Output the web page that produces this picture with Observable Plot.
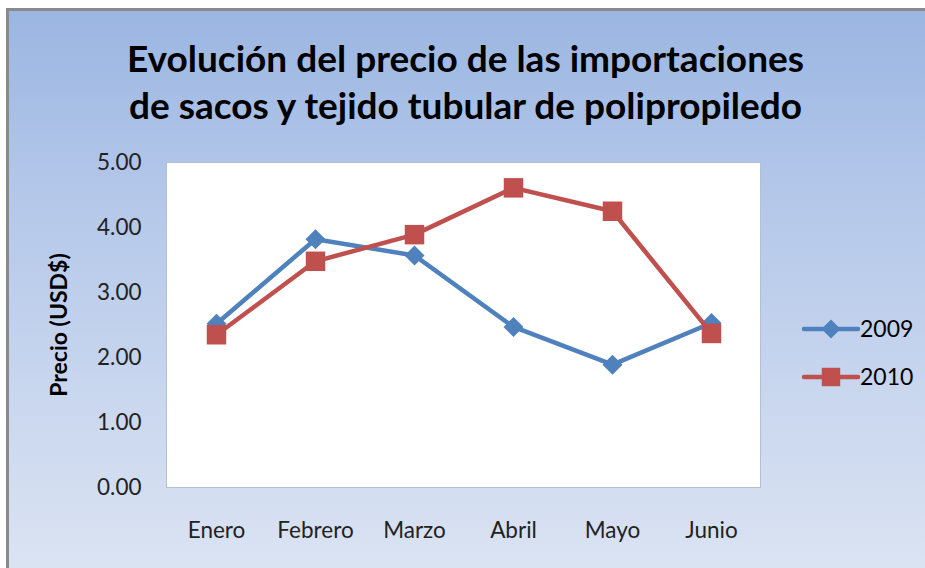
<!DOCTYPE html>
<html>
<head>
<meta charset="utf-8">
<script src="https://cdn.jsdelivr.net/npm/d3@7"></script>
<script src="https://cdn.jsdelivr.net/npm/@observablehq/plot@0.6"></script>
<style>
  html, body { margin: 0; padding: 0; background: #ffffff; width: 925px; height: 568px; overflow: hidden; }
  #chart {
    position: absolute; left: 6px; top: 8px; width: 940px; height: 580px;
    border-left: 3px solid #8a8a8a; border-top: 3px solid #8a8a8a;
    background: linear-gradient(to bottom, #9bb6e2 0%, #b6c9ea 35%, #dde5f3 100%);
    font-family: Lato, "Open Sans", sans-serif;
  }
  #title {
    position: absolute; left: -6px; top: 23px; width: 925px; text-align: center;
    font-weight: bold; font-size: 37px; line-height: 47px; color: #000;
  }
  #plot { position: absolute; left: -9px; top: 129px; }
  #legend { position: absolute; left: 783px; top: 300px; }
</style>
</head>
<body>
<div id="chart">
  <div id="title">Evolución del precio de las importaciones<br>de sacos y tejido tubular de polipropiledo</div>
  <div id="plot"></div>
  <div id="legend"></div>
</div>
<script>
const months = ["Enero", "Febrero", "Marzo", "Abril", "Mayo", "Junio"];
const series = ["2009", "2010"];
const values2009 = [2.52, 3.82, 3.57, 2.47, 1.89, 2.53];
const values2010 = [2.35, 3.48, 3.89, 4.61, 4.25, 2.37];
const yTicks = [0, 1, 2, 3, 4, 5];
const colors = ["#4f81bd", "#c0504d"];
const symbols = ["diamond2", "square"];

const data2009 = months.map((m, i) => ({month: m, value: values2009[i], series: "2009"}));
const data2010 = months.map((m, i) => ({month: m, value: values2010[i], series: "2010"}));

const chart = Plot.plot({
  width: 925,
  height: 439,
  marginTop: 22,
  marginBottom: 92,
  marginLeft: 166,
  marginRight: 165,
  style: {background: "transparent", fontFamily: "Lato, 'Open Sans', sans-serif", fontSize: "22.5px", color: "#222"},
  x: {type: "point", domain: months, padding: 0.5, label: null, tickSize: 0, tickPadding: 35},
  y: {domain: [0, 5], ticks: yTicks, tickFormat: d3.format(".2f"), label: null, tickSize: 0, tickPadding: 25},
  marks: [
    Plot.frame({fill: "white", stroke: "#b4bfd0", strokeWidth: 1}),
    Plot.line(data2009, {x: "month", y: "value", stroke: colors[0], strokeWidth: 4.5}),
    Plot.dot(data2009, {x: "month", y: "value", symbol: symbols[0], r: 9, fill: colors[0], stroke: "none"}),
    Plot.line(data2010, {x: "month", y: "value", stroke: colors[1], strokeWidth: 4.5}),
    Plot.dot(data2010, {x: "month", y: "value", symbol: symbols[1], r: 11, fill: colors[1], stroke: "none"}),
    Plot.text(["Precio (USD$)"], {frameAnchor: "left", textAnchor: "middle", dx: -107, rotate: -90, fontWeight: "bold", fontSize: 23, fill: "#000"})
  ]
});
document.getElementById("plot").appendChild(chart);

// legend
const lg = d3.select("#legend").append("svg").attr("width", 140).attr("height", 100)
  .style("font-family", "Lato, 'Open Sans', sans-serif").style("font-size", "23px");
series.forEach((s, i) => {
  const g = lg.append("g").attr("transform", `translate(0, ${18 + i * 48})`);
  g.append("line").attr("x1", 12).attr("x2", 66).attr("y1", 0).attr("y2", 0)
    .attr("stroke", colors[i]).attr("stroke-width", 4.5).attr("stroke-linecap", "round");
  g.append("path").attr("d", d3.symbol(i === 0 ? d3.symbolDiamond2 : d3.symbolSquare, i === 0 ? 230 : 340)())
    .attr("transform", "translate(39,0)").attr("fill", colors[i]);
  g.append("text").attr("x", 68).attr("y", 0).attr("dy", "0.35em").attr("fill", "#000").text(s);
});
</script>
</body>
</html>
